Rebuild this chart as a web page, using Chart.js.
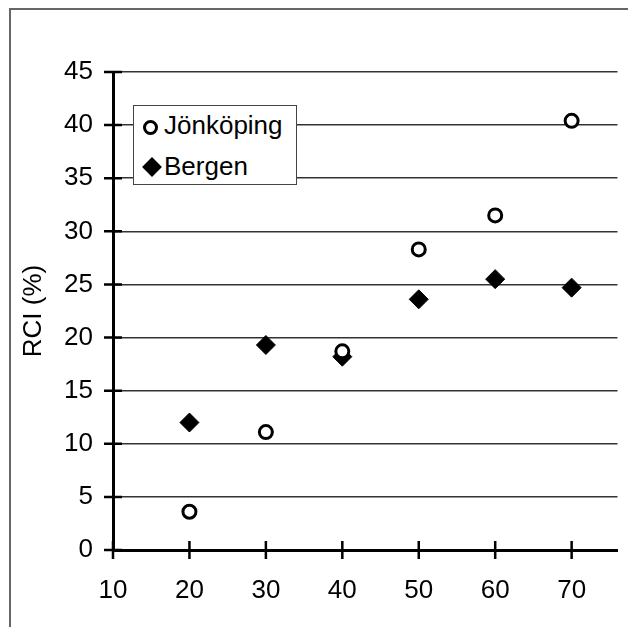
<!DOCTYPE html>
<html>
<head>
<meta charset="utf-8">
<script src="https://cdn.jsdelivr.net/npm/chart.js@4/dist/chart.umd.min.js"></script>
<style>
  html, body { margin: 0; padding: 0; background: #fff; }
  #wrap { position: relative; width: 628px; height: 627px; overflow: hidden; }
  #frame {
    position: absolute; left: 9px; top: 8px; width: 700px; height: 700px;
    border-left: 2px solid #666; border-top: 2px solid #666;
  }
  canvas { position: absolute; left: 0; top: 0; }
  #legend {
    position: absolute; left: 133px; top: 105px; width: 162px; height: 78px;
    border: 1px solid #444; background: #fff;
    font-family: "Liberation Sans", Arial, sans-serif; font-size: 26px; color: #000;
  }
  .row { position: absolute; left: 0; height: 30px; line-height: 30px; white-space: nowrap; }
  .row .txt { position: absolute; left: 30px; top: 0; }
  .mk { position: absolute; box-sizing: border-box; }
  .mk.circle { width: 15px; height: 15px; border: 3px solid #000; border-radius: 50%; background: #fff; left: 9px; top: 10px; }
  .mk.diamond { width: 14px; height: 14px; background: #000; transform: rotate(45deg); left: 11px; top: 9px; }
</style>
</head>
<body>
<div id="wrap">
  <div id="frame"></div>
  <canvas id="chart" width="628" height="627"></canvas>
  <div id="legend"></div>
</div>
<script>
  const ages = [20, 30, 40, 50, 60, 70];
  const jonkoping = [3.6, 11.1, 18.7, 28.3, 31.5, 40.4];
  const bergen = [12.0, 19.3, 18.2, 23.6, 25.5, 24.7];
  const xTicks = [10, 20, 30, 40, 50, 60, 70];
  const yTicks = [0, 5, 10, 15, 20, 25, 30, 35, 40, 45];

  const font = "'Liberation Sans', Arial, sans-serif";

  function toPoints(ys) {
    return ages.map((x, i) => ({ x: x, y: ys[i] }));
  }

  // ticks in the original cross the axis line, chart.js only draws them outside
  const crossTicks = {
    id: "crossTicks",
    afterDraw(chart) {
      const { ctx, scales } = chart;
      const x = scales.x;
      const y = scales.y;
      ctx.save();
      ctx.strokeStyle = "#000";
      ctx.lineWidth = 2.5;
      ctx.beginPath();
      xTicks.forEach((v) => {
        const px = x.getPixelForValue(v);
        ctx.moveTo(px, y.bottom - 9);
        ctx.lineTo(px, y.bottom + 9);
      });
      yTicks.forEach((v) => {
        const py = y.getPixelForValue(v);
        ctx.moveTo(x.left - 9, py);
        ctx.lineTo(x.left + 9, py);
      });
      ctx.stroke();
      ctx.restore();
    },
  };

  const chart = new Chart(document.getElementById("chart").getContext("2d"), {
    type: "scatter",
    data: {
      datasets: [
        {
          label: "Jönköping",
          data: toPoints(jonkoping),
          pointStyle: "circle",
          radius: 6.5,
          borderWidth: 3,
          borderColor: "#000",
          backgroundColor: "#fff",
        },
        {
          label: "Bergen",
          data: toPoints(bergen),
          pointStyle: "rectRot",
          radius: 9.5,
          borderWidth: 1,
          borderColor: "#000",
          backgroundColor: "#000",
        },
      ],
    },
    options: {
      responsive: false,
      animation: false,
      devicePixelRatio: 1,
      layout: { padding: { top: 72, right: 7, left: 0, bottom: 0 } },
      plugins: { legend: { display: false }, tooltip: { enabled: false } },
      elements: { point: { hoverRadius: 6.5 } },
      scales: {
        x: {
          type: "linear",
          min: 10,
          max: 76,
          afterBuildTicks: (s) => { s.ticks = xTicks.map((v) => ({ value: v })); },
          afterFit: (s) => { s.height = 77; },
          grid: { display: false, drawTicks: false },
          border: { display: true, color: "#000", width: 3 },
          ticks: { color: "#000", font: { size: 26, family: font }, padding: 25, maxRotation: 0 },
        },
        y: {
          type: "linear",
          min: 0,
          max: 45,
          afterBuildTicks: (s) => { s.ticks = yTicks.map((v) => ({ value: v })); },
          afterFit: (s) => { s.width = 113; },
          grid: {
            drawTicks: false,
            lineWidth: 1.5,
            color: (c) => (c.tick && c.tick.value === 0 ? "rgba(0,0,0,0)" : "#333"),
          },
          border: { display: true, color: "#000", width: 3 },
          ticks: { color: "#000", font: { size: 26, family: font }, padding: 20 },
          title: {
            display: true,
            text: "RCI (%)",
            color: "#000",
            font: { size: 26, family: font },
            padding: { top: 18, bottom: 0 },
          },
        },
      },
    },
    plugins: [crossTicks],
  });

  const legend = document.getElementById("legend");
  const marks = ["circle", "diamond"];
  const tops = [4, 45];
  chart.data.datasets.forEach((ds, i) => {
    const row = document.createElement("div");
    row.className = "row";
    row.style.top = tops[i] + "px";
    row.innerHTML = `<span class="mk ${marks[i]}"></span><span class="txt">${ds.label}</span>`;
    legend.appendChild(row);
  });
</script>
</body>
</html>
